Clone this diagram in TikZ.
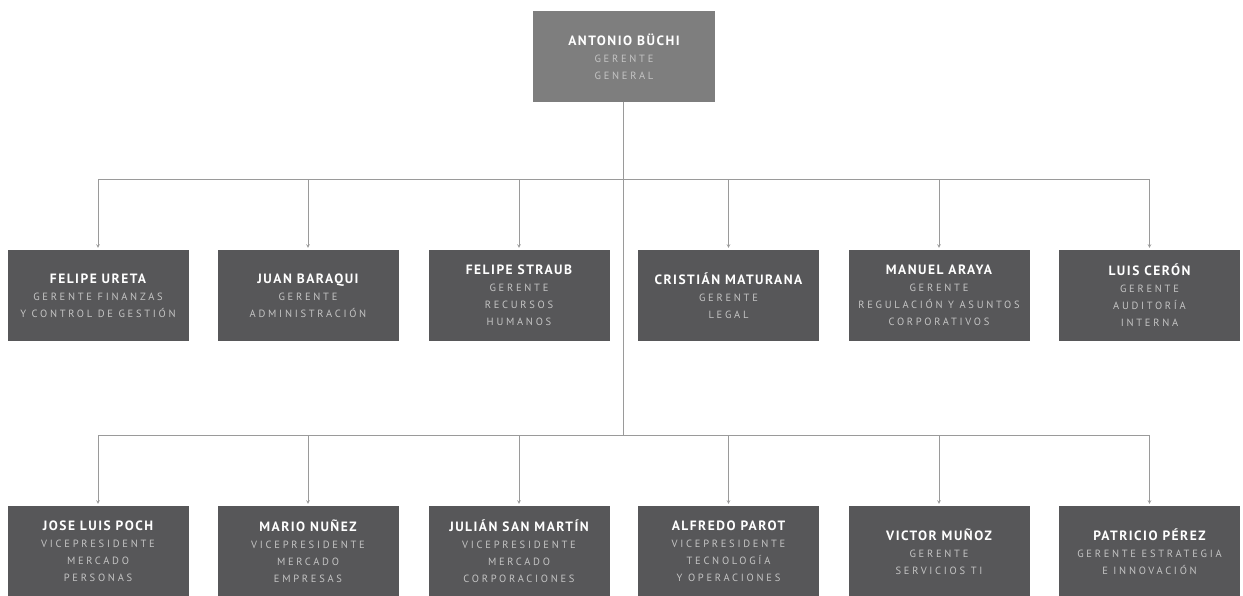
\documentclass[tikz,border=0pt]{standalone}
\usepackage{fontspec}
\setmainfont{PT Sans}
\newfontfamily\rolefont[LetterSpace=26]{PT Sans}
\newfontfamily\namefont[LetterSpace=11]{PT Sans}
\usepackage{xcolor}
\usetikzlibrary{positioning}

\definecolor{bossgrey}{HTML}{7E7E7E}
\definecolor{boxgrey}{HTML}{575759}
\definecolor{rolegrey}{HTML}{C4C4C4}
\definecolor{linegrey}{HTML}{9A9A9A}

\newcommand{\nombre}[1]{{\namefont\fontsize{13.5}{17}\selectfont\bfseries\color{white}#1}}

\tikzset{
  cargo/.style={fill=boxgrey,minimum width=181pt,minimum height=91pt,inner sep=0pt,
    align=center,text=rolegrey,font=\rolefont\fontsize{10.5}{17}\selectfont},
  boss/.style={cargo,fill=bossgrey},
  conn/.style={draw=linegrey,line width=0.6pt}
}

\begin{document}
\begin{tikzpicture}[x=1pt,y=-1pt,>=stealth]
  \useasboundingbox (0,0) rectangle (1243,595);
  \node[boss,minimum width=182pt] (gg) at (624,56.5) {\nombre{ANTONIO BÜCHI}\\GERENTE\\GENERAL};

  % gerencias
  \node[cargo] (fin) at (98,295.5) {\nombre{FELIPE URETA}\\GERENTE FINANZAS\\Y CONTROL DE GESTIÓN};
  \node[cargo] (adm) at (308,295.5) {\nombre{JUAN BARAQUI}\\GERENTE\\ADMINISTRACIÓN};
  \node[cargo] (rrhh) at (519,295.5) {\nombre{FELIPE STRAUB}\\GERENTE\\RECURSOS\\HUMANOS};
  \node[cargo] (leg) at (728.5,295.5) {\nombre{CRISTIÁN MATURANA}\\GERENTE\\LEGAL};
  \node[cargo] (reg) at (939,295.5) {\nombre{MANUEL ARAYA}\\GERENTE\\REGULACIÓN Y ASUNTOS\\CORPORATIVOS};
  \node[cargo] (aud) at (1149.5,295.5) {\nombre{LUIS CERÓN}\\GERENTE\\AUDITORÍA\\INTERNA};

  % vicepresidencias
  \node[cargo] (per) at (98,551.5) {\nombre{JOSE LUIS POCH}\\VICEPRESIDENTE\\MERCADO\\PERSONAS};
  \node[cargo] (emp) at (308,551.5) {\nombre{MARIO NUÑEZ}\\VICEPRESIDENTE\\MERCADO\\EMPRESAS};
  \node[cargo] (corp) at (519,551.5) {\nombre{JULIÁN SAN MARTÍN}\\VICEPRESIDENTE\\MERCADO\\CORPORACIONES};
  \node[cargo] (tec) at (728.5,551.5) {\nombre{ALFREDO PAROT}\\VICEPRESIDENTE\\TECNOLOGÍA\\Y OPERACIONES};
  \node[cargo] (ti) at (939,551.5) {\nombre{VICTOR MUÑOZ}\\GERENTE\\SERVICIOS TI};
  \node[cargo] (est) at (1149.5,551.5) {\nombre{PATRICIO PÉREZ}\\GERENTE ESTRATEGIA\\E INNOVACIÓN};

  \coordinate (busA) at (623,179);
  \coordinate (busB) at (623,435);
  \draw[conn] (gg.south -| busA) -- (busB);
  \draw[conn] (busA -| fin) -- (busA -| aud);
  \draw[conn] (busB -| per) -- (busB -| est);
  \foreach \n in {fin,adm,rrhh,leg,reg,aud}
    \draw[conn,->,shorten >=2pt] (busA -| \n) -- (\n.north);
  \foreach \n in {per,emp,corp,tec,ti,est}
    \draw[conn,->,shorten >=2pt] (busB -| \n) -- (\n.north);
\end{tikzpicture}
\end{document}
